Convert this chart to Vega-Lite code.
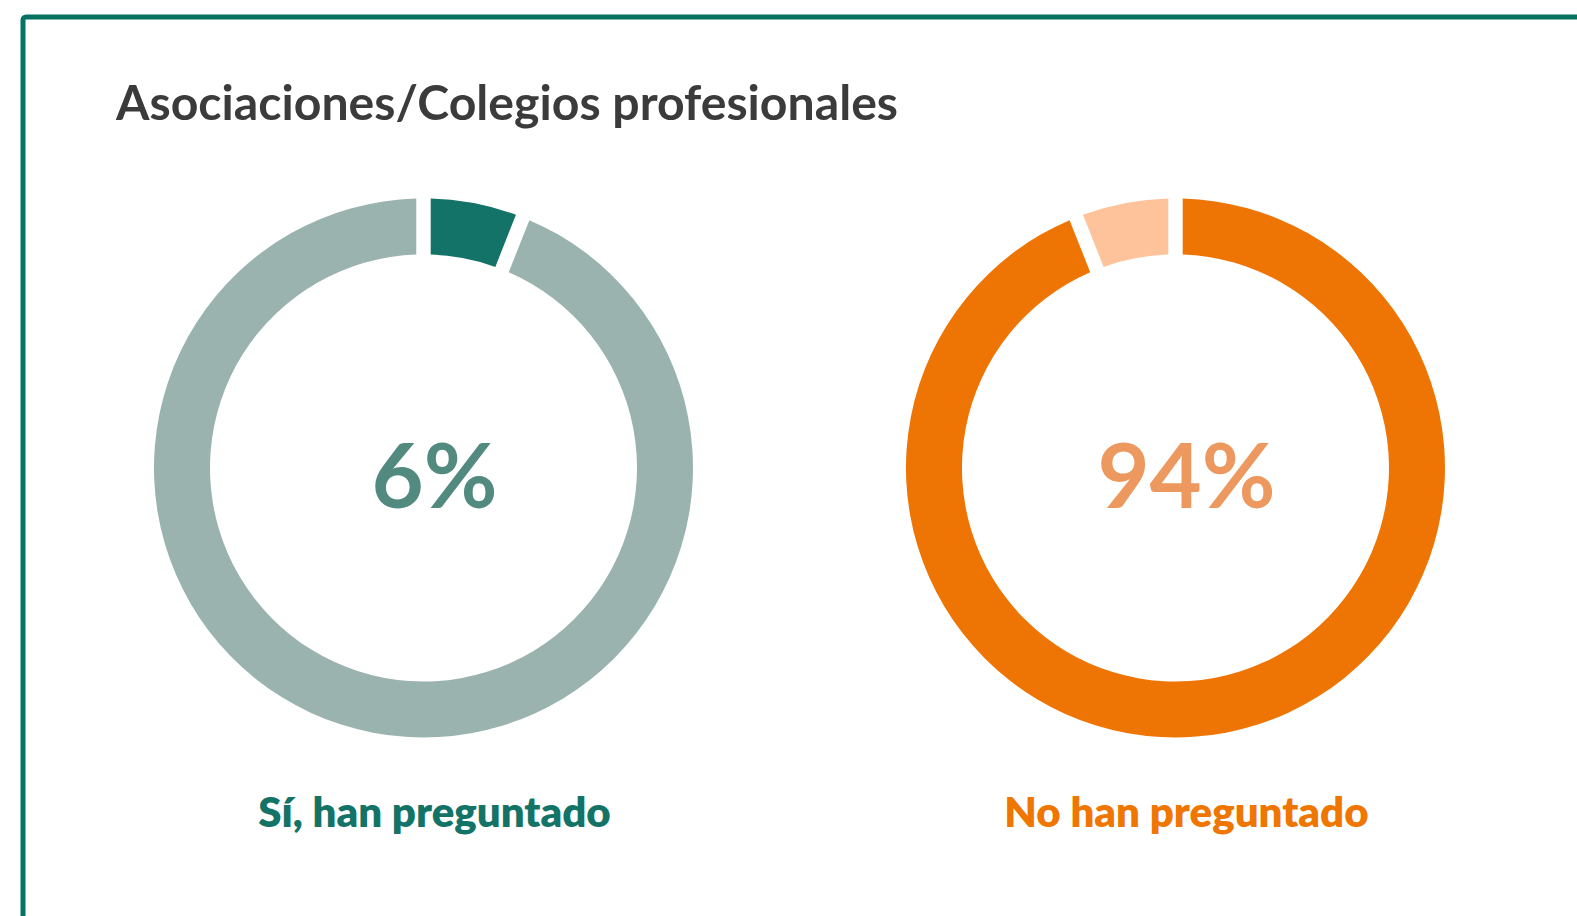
{
  "$schema": "https://vega.github.io/schema/vega-lite/v6.json",
  "width": 1577,
  "height": 916,
  "autosize": {"type": "fit", "contains": "padding"},
  "padding": {"left": 23, "top": 17, "right": -10, "bottom": -10},
  "background": "white",
  "title": {
    "text": "Asociaciones/Colegios profesionales",
    "anchor": "start",
    "frame": "group",
    "orient": "top",
    "offset": 0,
    "baseline": "alphabetic",
    "dx": 93,
    "dy": 151,
    "font": "Lato",
    "fontSize": 48.2,
    "fontWeight": "bold",
    "color": "#3b3b3b"
  },
  "config": {
    "view": {"stroke": "#077262", "strokeWidth": 5, "cornerRadius": 3},
    "font": "Lato"
  },
  "datasets": {
    "segmentos": [
      {"donut": "Sí", "segmento": "Sí, han preguntado", "inicio": 0, "fin": 6},
      {"donut": "Sí", "segmento": "Resto Sí", "inicio": 6, "fin": 100},
      {"donut": "No", "segmento": "No han preguntado", "inicio": 0, "fin": 94},
      {"donut": "No", "segmento": "Resto No", "inicio": 94, "fin": 100}
    ],
    "textos": [
      {"donut": "Sí", "porcentaje": "6%", "etiqueta": "Sí, han preguntado"},
      {"donut": "No", "porcentaje": "94%", "etiqueta": "No han preguntado"}
    ]
  },
  "layer": [
    {
      "data": {"name": "segmentos"},
      "mark": {"type": "arc", "radius": 269.5, "radius2": 213.5, "padAngle": 0.042},
      "encoding": {
        "x": {"field": "donut", "type": "nominal", "scale": {"type": "point", "domain": ["Sí", "No"], "padding": 0.5399, "align": 0.4932}, "axis": null},
        "y": {"datum": "centro", "type": "nominal", "scale": {"type": "point", "align": 0.4961}, "axis": null},
        "theta": {"field": "inicio", "type": "quantitative", "scale": {"domain": [0, 100], "range": [0, 6.283185307179586]}},
        "theta2": {"field": "fin"},
        "color": {
          "field": "segmento",
          "type": "nominal",
          "scale": {
            "domain": ["Sí, han preguntado", "Resto Sí", "No han preguntado", "Resto No"],
            "range": ["#137368", "#9ab3af", "#ee7503", "#fec39a"]
          },
          "legend": null
        }
      }
    },
    {
      "data": {"name": "textos"},
      "mark": {"type": "text", "align": "center", "baseline": "alphabetic", "dx": 11, "dy": 40, "fontSize": 90, "fontWeight": "bold", "font": "Lato"},
      "encoding": {
        "x": {"field": "donut", "type": "nominal", "axis": null},
        "y": {"datum": "centro", "type": "nominal", "axis": null},
        "text": {"field": "porcentaje"},
        "color": {"condition": {"test": "datum.donut === 'Sí'", "value": "#538a80"}, "value": "#ed985f"}
      }
    },
    {
      "data": {"name": "textos"},
      "mark": {"type": "text", "align": "center", "baseline": "alphabetic", "dx": 11, "dy": 359, "fontSize": 42, "fontWeight": 800, "font": "Lato"},
      "encoding": {
        "x": {"field": "donut", "type": "nominal", "axis": null},
        "y": {"datum": "centro", "type": "nominal", "axis": null},
        "text": {"field": "etiqueta"},
        "color": {"condition": {"test": "datum.donut === 'Sí'", "value": "#147367"}, "value": "#ef7601"}
      }
    }
  ]
}
